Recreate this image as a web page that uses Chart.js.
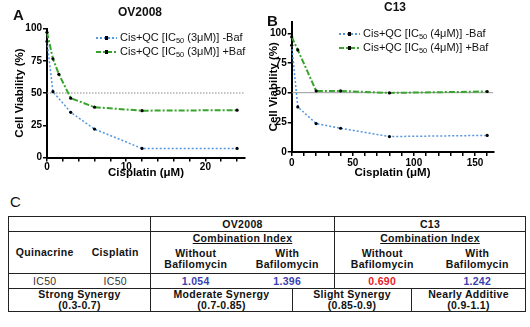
<!DOCTYPE html>
<html>
<head>
<meta charset="utf-8">
<script src="https://cdn.jsdelivr.net/npm/chart.js@4.4.0/dist/chart.umd.min.js"></script>
<style>
body { margin: 0; background: #fff; font-family: "Liberation Sans", Arial, sans-serif; color: #111; }
#page { position: relative; width: 530px; height: 327px; overflow: hidden; }
.abs { position: absolute; }
canvas { position: absolute; top: 0; }
.panel { font-weight: bold; font-size: 15px; line-height: 15px; }
.ttl { font-weight: bold; font-size: 12px; line-height: 13px; width: 120px; text-align: center; }
.leg { font-size: 11px; white-space: nowrap; }
.leg div { height: 14px; line-height: 14px; }
.mk { display: inline-block; position: relative; width: 21px; height: 2px; margin-right: 3px; vertical-align: middle; }
.mk i { position: absolute; left: 9px; top: -1px; width: 3px; height: 4px; background: #000; }
sub { font-size: 7.5px; vertical-align: -2px; line-height: 0; }
#tbl { position: absolute; left: 8px; top: 216px; width: 517px; border-collapse: collapse; table-layout: fixed;
       font-size: 10.5px; font-weight: bold; letter-spacing: 0.3px; border: 1px solid #222; }
#tbl td { padding: 0; text-align: center; vertical-align: middle; border-top: 1px solid #222; border-bottom: 1px solid #222; line-height: 11px; }
#tbl td.bl { border-left: 1px solid #222; }
#tbl td.nb { border-bottom: none; }
#tbl td.nt { border-top: none; }
#tbl .ic { font-weight: normal; color: #333; }
#tbl .u { text-decoration: underline; }
#tbl .blue { color: #3a3fb0; }
#tbl .red { color: #e8202a; }
</style>
</head>
<body>
<div id="page">
  <canvas id="chartA" width="250" height="182" style="left:0"></canvas>
  <canvas id="chartB" width="265" height="182" style="left:265px"></canvas>

  <div class="abs panel" style="left:13px; top:7px;">A</div>
  <div class="abs panel" style="left:267px; top:13px;">B</div>
  <div class="abs ttl" style="left:80px; top:6px;">OV2008</div>
  <div class="abs ttl" style="left:335px; top:1px;">C13</div>
  <div id="legA" class="abs leg" style="left:96px; top:30px;"></div>
  <div id="legB" class="abs leg" style="left:339px; top:26px;"></div>

  <div class="abs" style="left:10px; top:193px; font-size:15px;">C</div>

  <table id="tbl">
    <colgroup>
      <col style="width:72px"><col style="width:70px"><col style="width:90px"><col style="width:52px">
      <col style="width:42px"><col style="width:77px"><col style="width:18px"><col style="width:96px">
    </colgroup>
    <tr style="height:15px">
      <td colspan="2"></td>
      <td colspan="3" class="bl">OV2008</td>
      <td colspan="3" class="bl">C13</td>
    </tr>
    <tr style="height:13px">
      <td rowspan="2">Quinacrine</td>
      <td rowspan="2">Cisplatin</td>
      <td colspan="3" class="bl nb"><span class="u">Combination Index</span></td>
      <td colspan="3" class="bl nb"><span class="u">Combination Index</span></td>
    </tr>
    <tr style="height:29px">
      <td class="bl nt">Without<br>Bafilomycin</td>
      <td colspan="2" class="nt">With<br>Bafilomycin</td>
      <td colspan="2" class="bl nt">Without<br>Bafilomycin</td>
      <td class="nt">With<br>Bafilomycin</td>
    </tr>
    <tr style="height:15px">
      <td class="ic">IC50</td>
      <td class="ic">IC50</td>
      <td class="bl blue">1.054</td>
      <td colspan="2" class="blue">1.396</td>
      <td colspan="2" class="bl red">0.690</td>
      <td class="blue">1.242</td>
    </tr>
    <tr style="height:23px">
      <td colspan="2">Strong Synergy<br>(0.3-0.7)</td>
      <td colspan="2" class="bl">Moderate Synergy<br>(0.7-0.85)</td>
      <td colspan="2" class="bl">Slight Synergy<br>(0.85-0.9)</td>
      <td colspan="2" class="bl">Nearly Additive<br>(0.9-1.1)</td>
    </tr>
  </table>
</div>

<script>
// panel A - OV2008
const doseA = [0, 0.75, 1.5, 3, 6, 12, 24];
const noBafA = [90, 51, null, 35, 22, 7, 7];
const withBafA = [97, 76.5, 64.5, 46, 39, 36.3, 36.7];
const xTicksA = [0, 2, 4, 6, 8, 10, 12, 14, 16, 18, 20, 22, 24];
const xLabelsA = [0, 10, 20];
const legendA = ["Cis+QC [IC50 (3μM)] -Baf", "Cis+QC [IC50 (3μM)] +Baf"];

// panel B - C13
const doseB = [0, 5, 20, 40, 80, 160];
const noBafB = [90, 38, 24, 20, 13, 14];
const withBafB = [97, 86, 51.5, 51.5, 49.8, 51];
const xTicksB = [0, 10, 20, 30, 40, 50, 60, 70, 80, 90, 100, 110, 120, 130, 140, 150, 160];
const xLabelsB = [0, 50, 100, 150];
const legendB = ["Cis+QC [IC50 (4μM)] -Baf", "Cis+QC [IC50 (4μM)] +Baf"];

const yTicks = [0, 25, 50, 75, 100];
const refLevel = 50;

const BLUE = "rgb(85,150,225)";
const GREEN = "rgb(55,165,45)";

function pts(xs, ys) {
    return xs.map((x, i) => ({ x: x, y: ys[i] })).filter(p => p.y !== null);
}

function fillLegend(id, names) {
    const el = document.getElementById(id);
    const marks = [
        "repeating-linear-gradient(90deg," + BLUE + " 0 2px,transparent 2px 4px)",
        "repeating-linear-gradient(90deg," + GREEN + " 0 5px,transparent 5px 7px," + GREEN + " 7px 9px,transparent 9px 11px)"
    ];
    names.forEach((n, i) => {
        const row = document.createElement("div");
        row.innerHTML = '<span class="mk" style="background:' + marks[i] + '"><i></i></span>' +
            n.replace("IC50", "IC<sub>50</sub>");
        el.appendChild(row);
    });
}

function buildChart(id, c) {
    const tickFont = { family: "'Liberation Sans', Arial, sans-serif", weight: "bold", size: 10 };
    const titleFont = { family: "'Liberation Sans', Arial, sans-serif", weight: "bold", size: 11.5 };
    return new Chart(document.getElementById(id), {
        type: "line",
        data: {
            datasets: [
                {
                    data: pts(c.dose, c.noBaf),
                    borderColor: BLUE, borderWidth: 1.5, borderDash: [2, 2],
                    pointRadius: 1.6, pointBackgroundColor: "#000", pointBorderWidth: 0,
                    tension: 0, spanGaps: true, clip: 6, order: 1
                },
                {
                    data: pts(c.dose, c.withBaf),
                    borderColor: GREEN, borderWidth: 2, borderDash: [6, 2, 2, 2],
                    pointRadius: 1.6, pointBackgroundColor: "#000", pointBorderWidth: 0,
                    tension: 0, clip: 6, order: 0
                },
                {
                    data: [{ x: 0, y: refLevel }, { x: c.xMax, y: refLevel }],
                    borderColor: c.refColor, borderWidth: 1, borderDash: c.refDash,
                    pointRadius: 0, order: 2
                }
            ]
        },
        options: {
            responsive: false,
            animation: false,
            devicePixelRatio: 1,
            layout: { padding: c.padding },
            plugins: { legend: { display: false }, tooltip: { enabled: false } },
            scales: {
                x: {
                    type: "linear", min: 0, max: c.xMax,
                    border: { color: "#000", width: 2 },
                    grid: { drawOnChartArea: false, drawTicks: true, tickLength: c.xTickLen, color: "#000", lineWidth: 1.5 },
                    ticks: {
                        color: "#000", font: tickFont, padding: c.xTickPad, autoSkip: false, maxRotation: 0,
                        callback: v => c.xLabels.includes(v) ? String(v) : ""
                    },
                    afterBuildTicks: s => { s.ticks = c.xTicks.map(v => ({ value: v })); },
                    afterFit: s => { s.height = c.xHeight; },
                    title: { display: true, text: "Cisplatin (μM)", color: "#000", font: titleFont, padding: { top: 0, bottom: 2 } }
                },
                y: {
                    type: "linear", min: 0, max: c.yMax,
                    border: { color: "#000", width: 2 },
                    grid: { drawOnChartArea: false, drawTicks: true, tickLength: 4, color: "#000", lineWidth: 1.5 },
                    ticks: { color: "#000", font: tickFont, padding: 1 },
                    afterBuildTicks: s => { s.ticks = yTicks.map(v => ({ value: v })); },
                    afterFit: s => { s.width = c.yWidth; },
                    title: { display: true, text: "Cell Viability (%)", color: "#000", font: titleFont, padding: { top: c.yTitlePad, bottom: 0 } }
                }
            }
        }
    });
}

buildChart("chartA", {
    dose: doseA, noBaf: noBafA, withBaf: withBafA,
    xMax: 25, xTicks: xTicksA, xLabels: xLabelsA, yMax: 100,
    padding: { top: 28.5, right: 5, left: 0, bottom: 0 },
    xHeight: 24.5, yWidth: 47, yTitlePad: 13, xTickLen: 4, xTickPad: 0,
    refColor: "#888", refDash: [1.5, 1.5]
});

buildChart("chartB", {
    dose: doseB, noBaf: noBafB, withBaf: withBafB,
    xMax: 165, xTicks: xTicksB, xLabels: xLabelsB, yMax: 110,
    padding: { top: 21.5, right: 36.7, left: 0, bottom: 0 },
    xHeight: 30, yWidth: 26.7, yTitlePad: 2, xTickLen: 4, xTickPad: 1,
    refColor: "#999", refDash: []
});

fillLegend("legA", legendA);
fillLegend("legB", legendB);
</script>
</body>
</html>
